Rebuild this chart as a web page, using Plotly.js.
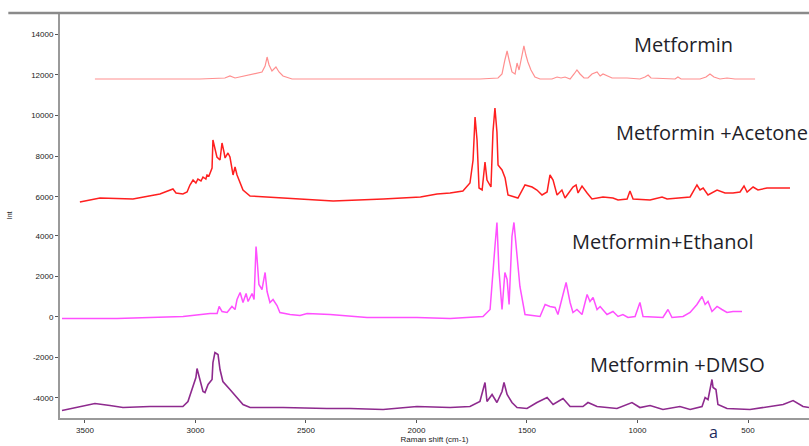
<!DOCTYPE html>
<html><head><meta charset="utf-8">
<script src="https://cdn.plot.ly/plotly-3.0.1.min.js"></script>
<style>html,body{margin:0;padding:0;background:#fff}#c{width:809px;height:446px}</style>
</head><body><div id="c"></div>
<script>
// Raman shift (cm-1) and intensity values
const metforminX = [3455,3206,2980,2867,2844,2821,2776,2753,2731,2717,2699,2685,2676,2667,2654,2636,2622,2604,2586,2563,2301,1984,1713,1631,1613,1600,1590,1581,1568,1554,1545,1536,1527,1514,1505,1496,1482,1464,1441,1387,1364,1346,1328,1305,1287,1274,1260,1242,1224,1206,1183,1169,1156,1138,1115,1047,989,966,952,939,830,817,803,717,690,672,654,627,595,559,468];
const metforminY = [11790,11790,11790,11840,11937,11840,11937,11987,12036,12085,12134,12428,12870,12477,12183,12380,12134,11937,11888,11790,11790,11790,11790,11840,12036,12723,13165,12723,12134,12036,12576,12232,12723,13412,12968,12625,12232,11888,11790,11790,11888,11840,11888,11790,12036,12232,12036,11840,11840,12036,12134,11937,12036,11937,11840,11840,11790,11888,11987,11840,11790,11888,11790,11790,11888,12036,11888,11790,11840,11790,11790];

const acetoneX = [3523,3432,3283,3161,3102,3088,3057,3038,3025,3011,2998,2989,2975,2966,2953,2948,2939,2934,2925,2921,2912,2903,2889,2880,2871,2866,2853,2844,2830,2821,2812,2799,2785,2753,2676,2526,2377,2150,1982,1907,1848,1790,1758,1744,1735,1726,1717,1703,1690,1681,1663,1654,1645,1636,1631,1613,1599,1586,1541,1509,1477,1455,1432,1409,1396,1382,1364,1342,1328,1292,1278,1269,1251,1228,1206,1156,1111,1088,1047,1034,1020,943,889,866,794,762,731,717,703,681,640,604,568,536,518,504,477,455,414,355,310];
const acetoneY = [5751,5947,5898,6144,6389,6193,6144,6242,6586,6831,6684,6880,6782,6978,6880,7077,7028,7175,7420,8795,8304,7960,7813,8648,8206,7911,8157,7960,7077,7469,7077,6684,6340,6046,5997,5898,5800,5898,5997,6144,6193,6291,6684,7813,9924,8795,6438,6340,7715,6831,6487,9188,10366,9188,7567,7322,6929,6095,5947,6586,6487,6340,6095,6242,7077,6831,6095,6340,5947,6487,6586,6193,6536,6193,5898,5997,5947,5849,5898,6291,5898,5849,5997,5898,5947,5997,6586,6340,6438,6095,6340,6193,6193,6242,6536,6242,6487,6340,6438,6438,6438];

const ethanolX = [3604,3355,3056,2934,2902,2893,2880,2857,2835,2821,2812,2798,2785,2771,2762,2744,2735,2726,2722,2713,2699,2685,2676,2663,2649,2631,2618,2572,2527,2495,2391,2224,1998,1848,1699,1667,1645,1636,1627,1613,1600,1590,1581,1568,1559,1545,1532,1509,1441,1418,1396,1373,1360,1337,1323,1305,1292,1274,1251,1228,1215,1201,1183,1169,1138,1111,1088,1066,1043,1011,989,975,912,885,862,844,794,762,731,708,694,681,663,640,618,595,568,527];
const ethanolY = [-75,-75,25,173,173,519,272,222,519,370,864,1210,716,1160,766,1160,864,3482,2988,1605,1358,2198,1259,716,864,568,222,123,74,173,123,-25,-25,-75,25,370,3482,4668,2346,370,2198,1852,617,3976,4668,3186,1506,123,25,617,519,469,123,1111,1704,716,222,370,123,1111,766,963,370,519,123,272,25,123,-25,25,716,25,-25,-25,370,-25,25,222,617,1012,617,766,272,519,370,222,272,272];

const dmsoX = [3604,3509,3455,3387,3328,3206,3115,3057,3034,3011,2998,2993,2980,2966,2957,2943,2925,2921,2912,2898,2889,2876,2844,2812,2785,2753,2604,2405,2301,2151,1998,1848,1758,1713,1690,1681,1658,1636,1613,1604,1590,1568,1545,1500,1455,1409,1382,1337,1305,1247,1224,1183,1093,1025,989,943,885,808,762,708,694,681,663,658,645,636,595,491,400,341,296,251,224];
const dmsoY = [-4619,-4422,-4274,-4372,-4471,-4422,-4422,-4422,-4175,-3483,-2989,-2545,-3088,-3681,-3730,-3335,-3088,-2248,-1754,-1853,-2594,-3187,-3582,-3977,-4323,-4471,-4471,-4521,-4521,-4570,-4422,-4471,-4422,-4175,-3236,-4175,-3829,-4224,-3681,-3236,-3829,-4224,-4471,-4521,-4224,-3977,-4323,-4027,-4422,-4422,-4224,-4422,-4521,-4224,-4471,-4372,-4570,-4422,-4570,-4422,-3977,-4076,-3088,-3483,-3582,-4323,-4521,-4570,-4422,-4323,-4125,-4422,-4471];

const xTicks = [3500,3000,2500,2000,1500,1000,500];
const topTicks = [6000,8000,10000,12000,14000];
const bottomTicks = [-4000,-2000,0,2000,4000];
const labels = ["Metformin","Metformin +Acetone","Metformin+Ethanol","Metformin +DMSO"];

const traces = [
  {x: metforminX, y: metforminY, yaxis:'y2', mode:'lines', line:{color:'#ff8f8f', width:1.2}},
  {x: acetoneX, y: acetoneY, yaxis:'y2', mode:'lines', line:{color:'#ff1f1f', width:1.5}},
  {x: ethanolX, y: ethanolY, yaxis:'y', mode:'lines', line:{color:'#ff4fff', width:1.5}},
  {x: dmsoX, y: dmsoY, yaxis:'y', mode:'lines', line:{color:'#8e2a8e', width:1.6}}
];

const tickFont = {family:'Arial, Liberation Sans, sans-serif', size:8, color:'#222'};
const annFont = {family:'Open Sans, sans-serif', size:20, color:'#1f1f2a'};
function ann(text, x, y, font, extra) {
  return Object.assign({text:text, xref:'paper', yref:'paper', x:x, y:y, xanchor:'center', yanchor:'middle', showarrow:false, font:font}, extra || {});
}

const layout = {
  width:809, height:446,
  margin:{l:60, r:0, t:13, b:28},
  paper_bgcolor:'#fff', plot_bgcolor:'#fff',
  showlegend:false,
  xaxis:{range:[3613,224], tickvals:xTicks, ticktext:xTicks.map(String), showgrid:false, zeroline:false,
         showline:true, linecolor:'#9a9a9a', linewidth:2, ticks:'outside', ticklen:3, tickcolor:'#555',
         tickfont:tickFont, title:{text:'Raman shift (cm-1)', font:{family:'Arial, sans-serif', size:8, color:'#222'}, standoff:2}},
  yaxis:{domain:[0,0.4889], range:[-4988,4790], tickvals:bottomTicks, ticktext:bottomTicks.map(String), showgrid:false, zeroline:false,
         showline:true, linecolor:'#9a9a9a', linewidth:2, ticks:'outside', ticklen:3, tickcolor:'#555', tickfont:tickFont},
  yaxis2:{domain:[0.4889,1], anchor:'x', range:[4867,15031], tickvals:topTicks, ticktext:topTicks.map(String), showgrid:false, zeroline:false,
         showline:true, linecolor:'#9a9a9a', linewidth:2, ticks:'outside', ticklen:3, tickcolor:'#555', tickfont:tickFont},
  shapes:[{type:'line', xref:'paper', yref:'paper', x0:-0.069, x1:1, y0:1, y1:1, line:{color:'#8a8a8a', width:2.5}}],
  annotations:[
    ann(labels[0], 0.832, 0.923, annFont),
    ann(labels[1], 0.870, 0.704, annFont),
    ann(labels[2], 0.805, 0.437, annFont),
    ann(labels[3], 0.824, 0.131, annFont),
    ann('a', 0.872, -0.035, {family:'Open Sans, sans-serif', size:16, color:'#1c2a5c'}),
    ann('Int', -0.067, 0.5, {family:'Arial, sans-serif', size:7, color:'#222'}, {textangle:-90})
  ]
};

Plotly.newPlot('c', traces, layout, {displayModeBar:false, staticPlot:true});
</script>
</body></html>
